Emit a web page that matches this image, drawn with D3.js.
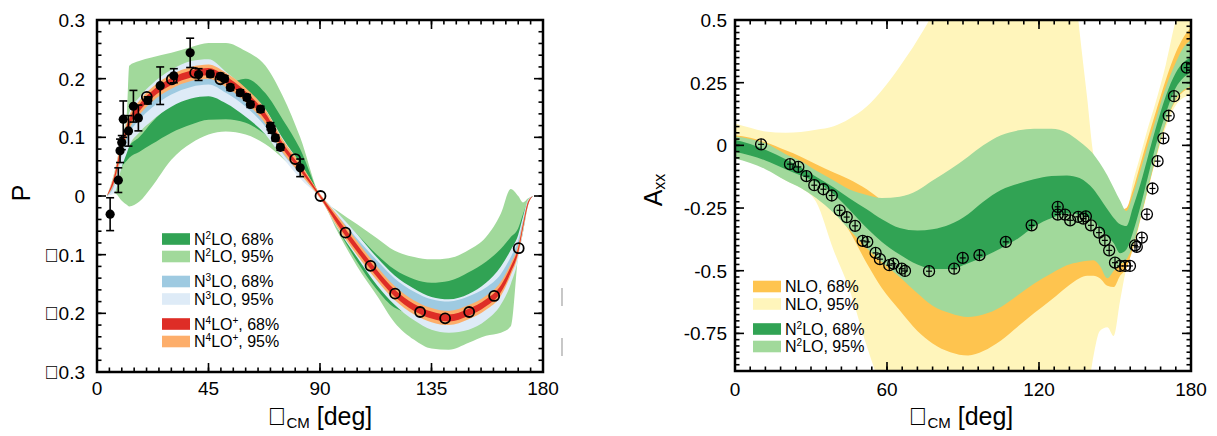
<!DOCTYPE html>
<html>
<head>
<meta charset="utf-8">
<script src="https://cdn.jsdelivr.net/npm/d3@7"></script>
<style>
  body { margin: 0; background: #fff; }
  svg text { font-family: "Liberation Sans", Arial, Helvetica, sans-serif; fill: #000; }
</style>
</head>
<body>
<svg id="chart" width="1217" height="436"></svg>
<script>
/*
*  two panels: analyzing power P and spin correlation Axx vs CM angle
*/

// ---------- left panel (P) ----------
var pAngles = [4, 7, 10, 12, 13, 17, 22, 30, 38, 45, 52, 60, 68, 75, 82, 90, 97, 105, 113, 120, 128, 135, 142, 150, 157, 163, 167, 170, 172, 174, 176];

var pN2lo95Lo = [0, 0.005, -0.008, -0.015, -0.018, -0.01, 0.015, 0.062, 0.09, 0.105, 0.11, 0.105, 0.088, 0.064, 0.035, 0, -0.06, -0.12, -0.17, -0.215, -0.245, -0.26, -0.262, -0.25, -0.238, -0.233, -0.222, -0.1, -0.045, -0.01, 0];
var pN2lo95Hi = [0, 0.04, 0.1, 0.14, 0.222, 0.23, 0.236, 0.244, 0.254, 0.261, 0.261, 0.247, 0.222, 0.17, 0.1, 0, -0.025, -0.048, -0.072, -0.093, -0.104, -0.108, -0.106, -0.092, -0.07, -0.03, 0.012, 0.0, -0.011, -0.004, 0];
var pN2lo68Lo = [0, 0.02, 0.05, 0.06, 0.065, 0.075, 0.088, 0.108, 0.122, 0.13, 0.131, 0.125, 0.105, 0.08, 0.05, 0, -0.055, -0.112, -0.16, -0.19, -0.2, -0.2, -0.198, -0.19, -0.175, -0.155, -0.13, -0.1, -0.06, -0.015, 0];
var pN2lo68Hi = [0, 0.025, 0.065, 0.078, 0.085, 0.1, 0.125, 0.155, 0.175, 0.183, 0.19, 0.2, 0.175, 0.13, 0.08, 0, -0.03, -0.065, -0.1, -0.125, -0.142, -0.148, -0.145, -0.13, -0.112, -0.09, -0.07, -0.055, -0.03, -0.008, 0];
var pN3lo95Lo = [0, 0.005, 0.05, 0.073, 0.085, 0.108, 0.128, 0.152, 0.166, 0.17, 0.158, 0.135, 0.105, 0.065, 0.03, -0.004, -0.055, -0.105, -0.152, -0.185, -0.212, -0.228, -0.233, -0.228, -0.212, -0.185, -0.15, -0.108, -0.06, -0.016, 0];
var pN3lo95Hi = [0, 0.04, 0.1, 0.128, 0.142, 0.168, 0.19, 0.215, 0.23, 0.233, 0.212, 0.183, 0.148, 0.098, 0.056, 0.004, -0.028, -0.065, -0.105, -0.135, -0.158, -0.172, -0.176, -0.167, -0.148, -0.12, -0.092, -0.066, -0.034, -0.006, 0];
var pN3lo68Lo = [0, 0.018, 0.068, 0.093, 0.105, 0.129, 0.15, 0.173, 0.186, 0.19, 0.176, 0.152, 0.118, 0.072, 0.038, -0.002, -0.042, -0.085, -0.126, -0.158, -0.183, -0.196, -0.2, -0.19, -0.175, -0.151, -0.119, -0.087, -0.047, -0.011, 0];
var pN3lo68Hi = [0, 0.028, 0.082, 0.109, 0.121, 0.146, 0.168, 0.191, 0.204, 0.208, 0.194, 0.168, 0.132, 0.082, 0.045, 0.002, -0.033, -0.073, -0.11, -0.14, -0.163, -0.176, -0.18, -0.171, -0.156, -0.133, -0.104, -0.076, -0.04, -0.008, 0];
var pN4lo95Lo = [0, 0.022, 0.073, 0.101, 0.113, 0.138, 0.16, 0.183, 0.196, 0.2, 0.186, 0.16, 0.123, 0.074, 0.038, -0.004, -0.053, -0.101, -0.144, -0.177, -0.202, -0.215, -0.22, -0.21, -0.194, -0.17, -0.135, -0.1, -0.056, -0.015, 0];
var pN4lo95Hi = [0, 0.038, 0.097, 0.125, 0.137, 0.162, 0.184, 0.207, 0.22, 0.224, 0.21, 0.184, 0.147, 0.096, 0.056, 0.004, -0.033, -0.077, -0.12, -0.153, -0.178, -0.191, -0.196, -0.186, -0.17, -0.146, -0.115, -0.084, -0.044, -0.009, 0];
var pN4lo68Lo = [0, 0.026, 0.08, 0.107, 0.119, 0.144, 0.166, 0.189, 0.202, 0.206, 0.192, 0.166, 0.129, 0.08, 0.043, -0.002, -0.048, -0.095, -0.138, -0.171, -0.196, -0.209, -0.214, -0.204, -0.188, -0.164, -0.13, -0.096, -0.053, -0.014, 0];
var pN4lo68Hi = [0, 0.034, 0.09, 0.119, 0.131, 0.156, 0.178, 0.201, 0.214, 0.218, 0.204, 0.178, 0.141, 0.09, 0.051, 0.002, -0.038, -0.083, -0.126, -0.159, -0.184, -0.197, -0.202, -0.192, -0.176, -0.152, -0.12, -0.088, -0.047, -0.01, 0];

// measured points with error bars (filled) and without (open)
var pFilledDeg = [5.3, 8.6, 9.3, 10, 10.6, 12.7, 14.7, 16.7, 20.5, 25.5, 31, 37.6, 41, 45.7, 49.8, 51.5, 53.8, 57.8, 60.5, 61.9, 66, 70, 70.5, 72, 74, 82];
var pFilledVal = [-0.031, 0.027, 0.077, 0.091, 0.131, 0.111, 0.153, 0.133, 0.163, 0.188, 0.205, 0.244, 0.207, 0.208, 0.204, 0.2, 0.185, 0.176, 0.168, 0.156, 0.148, 0.119, 0.113, 0.099, 0.083, 0.048];
var pFilledErr = [0.028, 0.021, 0.02, 0.012, 0.031, 0.026, 0.027, 0.022, 0.006, 0.032, 0.012, 0.025, 0.01, 0.005, 0.005, 0.005, 0.005, 0.005, 0.005, 0.005, 0.005, 0.006, 0.006, 0.005, 0.005, 0.015];
var pOpenDeg = [20.1, 30.2, 39.6, 49.8, 80, 90.2, 100.3, 110.4, 120.3, 130.4, 140.5, 150.2, 160.3, 170.2];
var pOpenVal = [0.169, 0.199, 0.21, 0.199, 0.063, 0, -0.0625, -0.119, -0.1665, -0.1977, -0.2085, -0.1977, -0.1704, -0.089];

var pXTicks = [0, 45, 90, 135, 180];
var pYTicks = [-0.3, -0.2, -0.1, 0, 0.1, 0.2, 0.3];

// ---------- right panel (Axx) ----------
var aAngles = [0, 6, 12, 20, 26, 32, 39, 45, 52, 58, 65, 72, 78, 85, 92, 98, 105, 112, 118, 125, 131, 136, 139, 141.5, 144, 147, 149.5, 152, 154.5, 157, 160, 163, 166, 170, 174, 177, 180];

var aNlo95Lo = [-0.05, -0.065, -0.09, -0.14, -0.17, -0.225, -0.42, -0.57, -0.8, -0.98, -1.2, -1.2, -1.2, -1.2, -1.2, -1.2, -1.2, -1.2, -1.2, -1.2, -1.2, -1.1, -1.0, -0.84, -0.74, -0.725, -0.76, -0.62, -0.49, -0.42, -0.3, -0.18, -0.06, 0.07, 0.16, 0.19, 0.2];
var aNlo95Hi = [0.087, 0.07, 0.055, 0.05, 0.053, 0.062, 0.076, 0.105, 0.155, 0.22, 0.314, 0.42, 0.53, 0.75, 0.95, 1, 1, 1, 1, 1, 0.95, 0.455, 0.19, -0.035, -0.1, -0.15, -0.2, -0.24, -0.27, -0.15, -0.04, 0.07, 0.17, 0.32, 0.5, 0.6, 0.65];
var aNlo68Lo = [-0.035, -0.05, -0.07, -0.11, -0.14, -0.18, -0.25, -0.34, -0.47, -0.57, -0.658, -0.74, -0.79, -0.825, -0.838, -0.82, -0.778, -0.72, -0.67, -0.615, -0.565, -0.53, -0.52, -0.52, -0.53, -0.56, -0.565, -0.52, -0.49, -0.41, -0.295, -0.175, -0.055, 0.085, 0.18, 0.215, 0.23];
var aNlo68Hi = [0.04, 0.03, 0.012, -0.02, -0.045, -0.075, -0.108, -0.135, -0.175, -0.22, -0.28, -0.33, -0.36, -0.37, -0.37, -0.36, -0.35, -0.34, -0.33, -0.32, -0.32, -0.33, -0.34, -0.35, -0.36, -0.37, -0.33, -0.26, -0.25, -0.18, -0.075, 0.03, 0.13, 0.26, 0.37, 0.43, 0.47];
var aN2lo95Lo = [-0.052, -0.07, -0.095, -0.14, -0.17, -0.21, -0.27, -0.335, -0.41, -0.465, -0.525, -0.59, -0.64, -0.67, -0.685, -0.675, -0.645, -0.595, -0.552, -0.51, -0.478, -0.465, -0.46, -0.458, -0.48, -0.53, -0.5, -0.475, -0.455, -0.4, -0.29, -0.17, -0.05, 0.09, 0.185, 0.22, 0.235];
var aN2lo95Hi = [0.035, 0.025, 0.008, -0.035, -0.062, -0.1, -0.14, -0.175, -0.198, -0.21, -0.205, -0.18, -0.14, -0.095, -0.045, 0, 0.04, 0.06, 0.066, 0.066, 0.05, 0.015, -0.01, -0.035, -0.07, -0.12, -0.17, -0.22, -0.262, -0.2, -0.1, 0, 0.1, 0.23, 0.33, 0.39, 0.42];
var aN2lo68Lo = [-0.025, -0.04, -0.06, -0.095, -0.12, -0.145, -0.195, -0.255, -0.33, -0.385, -0.435, -0.475, -0.493, -0.493, -0.47, -0.445, -0.41, -0.37, -0.325, -0.29, -0.272, -0.276, -0.285, -0.3, -0.33, -0.365, -0.39, -0.43, -0.415, -0.35, -0.245, -0.125, -0.005, 0.125, 0.23, 0.27, 0.29];
var aN2lo68Hi = [0.022, 0.005, -0.018, -0.055, -0.088, -0.125, -0.168, -0.21, -0.255, -0.295, -0.33, -0.34, -0.335, -0.315, -0.275, -0.225, -0.178, -0.152, -0.135, -0.122, -0.12, -0.13, -0.15, -0.175, -0.21, -0.255, -0.29, -0.315, -0.322, -0.25, -0.155, -0.045, 0.065, 0.195, 0.29, 0.33, 0.35];

var aDataDeg = [10.3, 21.7, 25, 28.2, 31.3, 34.9, 38.2, 41.3, 44.1, 47.4, 50.4, 52.2, 55.5, 57.2, 60.9, 62.5, 65.8, 67.1, 76.6, 86.5, 89.9, 96.5, 106.9, 117.1, 127.4, 127.4, 130.3, 132.3, 135.5, 137.5, 138.5, 140.5, 143.7, 146, 147.7, 150, 152, 154, 155.9, 157.9, 158.6, 160.6, 162.6, 164.8, 166.8, 169.1, 171.2, 173.3, 178.3];
var aDataVal = [0.004, -0.075, -0.086, -0.123, -0.159, -0.175, -0.2, -0.259, -0.286, -0.321, -0.381, -0.385, -0.429, -0.454, -0.478, -0.472, -0.492, -0.501, -0.502, -0.492, -0.449, -0.438, -0.385, -0.319, -0.245, -0.276, -0.276, -0.299, -0.285, -0.292, -0.283, -0.319, -0.348, -0.379, -0.419, -0.468, -0.481, -0.481, -0.481, -0.399, -0.405, -0.368, -0.275, -0.172, -0.063, 0.028, 0.118, 0.196, 0.31];

var aXTicks = [0, 60, 120, 180];
var aYTicks = [-0.75, -0.5, -0.25, 0, 0.25, 0.5];
var aYLabels = ["-0.75", "-0.5", "-0.25", "0", "0.25", "0.5"];

// legend entries (odd parts are superscripts)
var pLegend = [
  { key: "n2lo68", parts: ["N", "2", "LO, 68%"] },
  { key: "n2lo95", parts: ["N", "2", "LO, 95%"] },
  { key: "n3lo68", parts: ["N", "3", "LO, 68%"] },
  { key: "n3lo95", parts: ["N", "3", "LO, 95%"] },
  { key: "n4lo68", parts: ["N", "4", "LO", "+", ", 68%"] },
  { key: "n4lo95", parts: ["N", "4", "LO", "+", ", 95%"] }
];
var aLegend = [
  { key: "nlo68", parts: ["NLO, 68%"] },
  { key: "nlo95", parts: ["NLO, 95%"] },
  { key: "n2lo68", parts: ["N", "2", "LO, 68%"] },
  { key: "n2lo95", parts: ["N", "2", "LO, 95%"] }
];

var colors = {
  nlo68: "#fec44f", nlo95: "#fff5bb",
  n2lo68: "#31a354", n2lo95: "#a1d99b",
  n3lo68: "#9ecae1", n3lo95: "#deebf7",
  n4lo68: "#de2d26", n4lo95: "#fdae6b"
};

// theta and minus come from a symbol font in the source, which shows as an empty box
var BOX = "\uF071";

var svg = d3.select("#chart");

var xP = d3.scaleLinear().domain([0, 180]).range([97, 543]);
var yP = d3.scaleLinear().domain([-0.3, 0.3]).range([372, 20]);
var xA = d3.scaleLinear().domain([0, 180]).range([735, 1191]);
var yA = d3.scaleLinear().domain([-0.9, 0.5]).range([371, 20]);

var defs = svg.append("defs");
function addClip(id, x, y) {
  defs.append("clipPath").attr("id", id).append("rect")
    .attr("x", x.range()[0]).attr("y", y.range()[1])
    .attr("width", x.range()[1] - x.range()[0])
    .attr("height", y.range()[0] - y.range()[1]);
}
addClip("clipP", xP, yP);
addClip("clipA", xA, yA);

function band(g, angles, lo, hi, x, y, color) {
  var area = d3.area()
    .curve(d3.curveMonotoneX)
    .x((d, i) => x(angles[i]))
    .y0((d, i) => y(lo[i]))
    .y1((d, i) => y(hi[i]));
  g.append("path").datum(angles).attr("d", area).attr("fill", color);
}

// ---------- left bands ----------
var gP = svg.append("g").attr("clip-path", "url(#clipP)");
band(gP, pAngles, pN2lo95Lo, pN2lo95Hi, xP, yP, colors.n2lo95);
band(gP, pAngles, pN2lo68Lo, pN2lo68Hi, xP, yP, colors.n2lo68);
band(gP, pAngles, pN3lo95Lo, pN3lo95Hi, xP, yP, colors.n3lo95);
band(gP, pAngles, pN3lo68Lo, pN3lo68Hi, xP, yP, colors.n3lo68);
band(gP, pAngles, pN4lo95Lo, pN4lo95Hi, xP, yP, colors.n4lo95);
band(gP, pAngles, pN4lo68Lo, pN4lo68Hi, xP, yP, colors.n4lo68);

// filled points with error bars
var filled = gP.selectAll("g.filled").data(pFilledDeg).enter().append("g");
filled.append("line")
  .attr("x1", d => xP(d)).attr("x2", d => xP(d))
  .attr("y1", (d, i) => yP(pFilledVal[i] + pFilledErr[i]))
  .attr("y2", (d, i) => yP(pFilledVal[i] - pFilledErr[i]))
  .attr("stroke", "#000").attr("stroke-width", 1.6);
[1, -1].forEach(s => {
  filled.append("line")
    .attr("x1", d => xP(d) - 4).attr("x2", d => xP(d) + 4)
    .attr("y1", (d, i) => yP(pFilledVal[i] + s * pFilledErr[i]))
    .attr("y2", (d, i) => yP(pFilledVal[i] + s * pFilledErr[i]))
    .attr("stroke", "#000").attr("stroke-width", 1.6);
});
filled.append("circle")
  .attr("cx", d => xP(d)).attr("cy", (d, i) => yP(pFilledVal[i]))
  .attr("r", 4.6).attr("fill", "#000");

gP.selectAll("circle.open").data(pOpenDeg).enter().append("circle")
  .attr("cx", d => xP(d)).attr("cy", (d, i) => yP(pOpenVal[i]))
  .attr("r", 5).attr("fill", "none").attr("stroke", "#000").attr("stroke-width", 1.8);

// ---------- right bands ----------
var gA = svg.append("g").attr("clip-path", "url(#clipA)");
band(gA, aAngles, aNlo95Lo, aNlo95Hi, xA, yA, colors.nlo95);
band(gA, aAngles, aNlo68Lo, aNlo68Hi, xA, yA, colors.nlo68);
band(gA, aAngles, aN2lo95Lo, aN2lo95Hi, xA, yA, colors.n2lo95);
band(gA, aAngles, aN2lo68Lo, aN2lo68Hi, xA, yA, colors.n2lo68);

var pts = gA.selectAll("g.pt").data(aDataDeg).enter().append("g")
  .attr("transform", (d, i) => "translate(" + xA(d) + "," + yA(aDataVal[i]) + ")");
pts.append("circle").attr("r", 5.5).attr("fill", "none")
  .attr("stroke", "#000").attr("stroke-width", 1.3);
pts.append("line").attr("y1", -5.5).attr("y2", 5.5)
  .attr("stroke", "#000").attr("stroke-width", 1.2);
pts.append("line").attr("x1", -3).attr("x2", 3)
  .attr("stroke", "#000").attr("stroke-width", 1.2);

// ---------- frames and ticks ----------
function frame(x, y, xMinor, xMajor, yMinor, yMajor) {
  var g = svg.append("g").attr("stroke", "#000");
  var l = x.range()[0], r = x.range()[1], b = y.range()[0], t = y.range()[1];
  function xt(vals, len) {
    g.selectAll(null).data(vals).enter().append("line")
      .attr("x1", d => x(d)).attr("x2", d => x(d)).attr("y1", b).attr("y2", b - len).attr("stroke-width", 1.6);
    g.selectAll(null).data(vals).enter().append("line")
      .attr("x1", d => x(d)).attr("x2", d => x(d)).attr("y1", t).attr("y2", t + len).attr("stroke-width", 1.6);
  }
  function yt(vals, len) {
    g.selectAll(null).data(vals).enter().append("line")
      .attr("y1", d => y(d)).attr("y2", d => y(d)).attr("x1", l).attr("x2", l + len).attr("stroke-width", 1.6);
    g.selectAll(null).data(vals).enter().append("line")
      .attr("y1", d => y(d)).attr("y2", d => y(d)).attr("x1", r).attr("x2", r - len).attr("stroke-width", 1.6);
  }
  xt(xMinor, 4.5); xt(xMajor, 9);
  yt(yMinor, 4.5); yt(yMajor, 9);
  g.append("rect").attr("x", l).attr("y", t).attr("width", r - l).attr("height", b - t)
    .attr("fill", "none").attr("stroke-width", 2.5);
}
frame(xP, yP, d3.range(0, 181, 5), pXTicks,
  d3.range(-15, 16).map(v => v * 0.02), pYTicks);
frame(xA, yA, d3.range(0, 181, 6), aXTicks,
  d3.range(-36, 21).map(v => v * 0.025), aYTicks);

// tick labels
svg.selectAll(null).data(pXTicks).enter().append("text")
  .attr("x", d => xP(d)).attr("y", 395).attr("text-anchor", "middle")
  .attr("font-size", 19).text(d => d);
svg.selectAll(null).data(pYTicks).enter().append("text")
  .attr("x", 85).attr("y", d => yP(d)).attr("dy", "0.36em").attr("text-anchor", "end")
  .attr("font-size", 19)
  .text(d => d < 0 ? BOX + d3.format(".1f")(-d) : (d === 0 ? "0" : d3.format(".1f")(d)));
svg.selectAll(null).data(aXTicks).enter().append("text")
  .attr("x", d => xA(d)).attr("y", 396).attr("text-anchor", "middle")
  .attr("font-size", 19).text(d => d);
svg.selectAll(null).data(aYTicks).enter().append("text")
  .attr("x", 727).attr("y", d => yA(d)).attr("dy", "0.36em").attr("text-anchor", "end")
  .attr("font-size", 19).text((d, i) => aYLabels[i]);

// axis titles
function xTitle(cx) {
  var t = svg.append("text").attr("x", cx).attr("y", 425).attr("text-anchor", "middle").attr("font-size", 25);
  t.append("tspan").text(BOX);
  t.append("tspan").attr("font-size", 15).attr("dy", 3).text("CM");
  t.append("tspan").attr("dy", -3).text(" [deg]");
}
xTitle(320);
xTitle(961);

svg.append("text").attr("transform", "translate(30,193) rotate(-90)")
  .attr("text-anchor", "middle").attr("font-size", 25).text("P");
var ax = svg.append("text").attr("transform", "translate(662,190) rotate(-90)")
  .attr("text-anchor", "middle").attr("font-size", 25);
ax.append("tspan").text("A");
ax.append("tspan").attr("font-size", 16).attr("dy", 3).text("xx");

// legends
function legend(entries, x0, y0) {
  entries.forEach((e, i) => {
    var cy = y0 + i * 17.5 + Math.floor(i / 2) * 7.5;
    svg.append("rect").attr("x", x0).attr("y", cy - 5.8).attr("width", 28).attr("height", 11.6)
      .attr("fill", colors[e.key]);
    var t = svg.append("text").attr("x", x0 + 32).attr("y", cy + 5.6).attr("font-size", 16);
    e.parts.forEach((p, j) => {
      var sup = j % 2 === 1;
      t.append("tspan").attr("font-size", sup ? 10 : 16).attr("dy", j === 0 ? 0 : (sup ? -6 : 6)).text(p);
    });
  });
}
legend(pLegend, 162, 239);
legend(aLegend, 753, 286.5);

// stray marks right of the left panel
svg.append("line").attr("x1", 562).attr("x2", 562).attr("y1", 288).attr("y2", 306)
  .attr("stroke", "#aaa").attr("stroke-width", 1.3);
svg.append("line").attr("x1", 562).attr("x2", 562).attr("y1", 338).attr("y2", 356)
  .attr("stroke", "#aaa").attr("stroke-width", 1.3);
</script>
</body>
</html>
